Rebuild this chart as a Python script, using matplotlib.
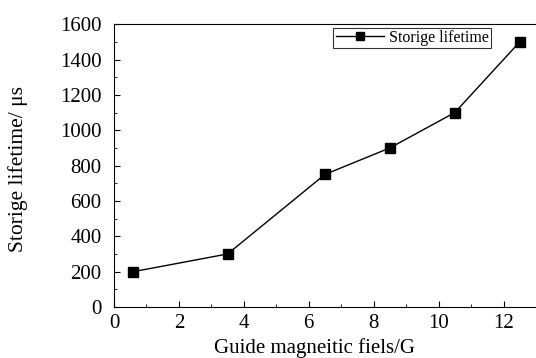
import matplotlib
matplotlib.use("Agg")
import matplotlib.pyplot as plt
from matplotlib.ticker import MultipleLocator

# data
field = [0.6, 3.5, 6.5, 8.5, 10.5, 12.5]
lifetime = [200, 300, 750, 900, 1100, 1500]

plt.rcParams['font.family'] = ['Liberation Serif', 'DejaVu Serif']

fig = plt.figure(figsize=(5.36, 3.58), dpi=100)
ax = fig.add_axes([0.2127, 0.1425, 0.7873, 0.79])

ax.plot(field, lifetime, color='black', linewidth=1.0, marker='s',
        markersize=6.5, label='Storige lifetime')

ax.set_xlim(0, 13)
ax.set_ylim(0, 1600)
ax.spines['right'].set_visible(False)
ax.xaxis.set_major_locator(MultipleLocator(2))
ax.xaxis.set_minor_locator(MultipleLocator(1))
ax.yaxis.set_major_locator(MultipleLocator(200))
ax.yaxis.set_minor_locator(MultipleLocator(100))
ax.tick_params(which='both', direction='in', labelsize=15, top=False, right=False)
ax.tick_params(which='major', length=4)
ax.tick_params(which='minor', length=2)
ax.tick_params(axis='y', which='major', pad=9)
ax.tick_params(axis='x', which='major', pad=5)

ax.set_xlabel('Guide magneitic fiels/G', fontsize=15)
ax.set_ylabel('Storige lifetime/ μs', fontsize=15.5)
ax.xaxis.set_label_coords(0.476, -0.11)
ax.yaxis.set_label_coords(-0.204, 0.488)

leg = ax.legend(loc='upper right', bbox_to_anchor=(0.893, 0.988), fontsize=11.5,
                frameon=True, fancybox=False, borderpad=0.15, handlelength=3.0,
                handletextpad=0.3, markerscale=0.8, borderaxespad=0)
leg.get_frame().set_edgecolor('black')
leg.get_frame().set_linewidth(0.8)

fig.savefig('out.png', dpi=100)
